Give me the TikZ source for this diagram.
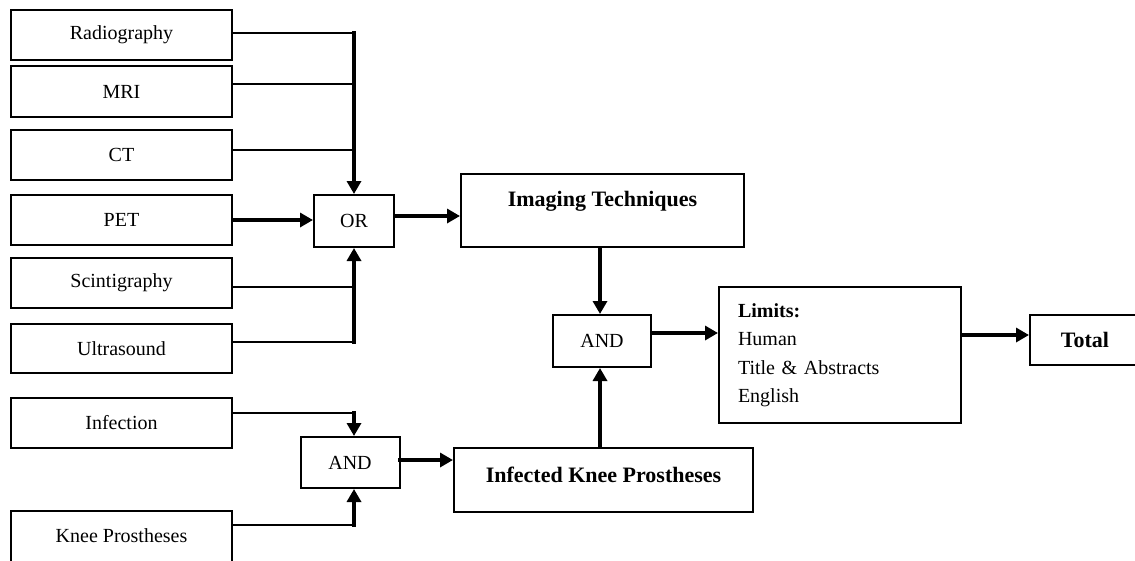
\documentclass[tikz,border=0pt]{standalone}
\usepackage{fontspec}
\setmainfont{Liberation Serif}
\usetikzlibrary{arrows.meta}
\begin{document}
\begin{tikzpicture}[x=1pt,y=-1pt,
  reg/.style={font=\fontsize{20}{24}\selectfont},
  bld/.style={font=\fontsize{22}{26}\selectfont\bfseries},
  box/.style={draw, line width=2pt, inner sep=0pt, reg},
  src/.style={box, minimum width=221pt, minimum height=50pt},
  thinln/.style={line width=2pt},
  arr/.style={line width=4.5pt, line cap=rect, -{Triangle[length=13pt,width=14pt]}},
]
\useasboundingbox (0,0) rectangle (1135,560);
\clip (0,0) rectangle (1135,560);

% source boxes
\node[src] (rad)  at (121.5,35)   {Radiography};
\node[src, minimum height=51pt] (mri)  at (121.5,91.5) {MRI};
\node[src] (ct)   at (121.5,155)  {CT};
\node[src] (pet)  at (121.5,220)  {PET};
\node[src] (sci)  at (121.5,283)  {Scintigraphy};
\node[src, minimum height=49pt] (ult)  at (121.5,348.5) {Ultrasound};
\node[src] (inf)  at (121.5,423)  {Infection};
\node[src, minimum height=60pt] (knee) at (121.5,541) {};
\node[reg] (kneelabel) at (121.5,536) {Knee Prostheses};

% gates
\node[box, minimum width=80pt, minimum height=52pt] (or)   at (354,221)   {OR};
\node[box, minimum width=99pt, minimum height=51pt] (and1) at (350,462.5) {AND};
\node[box, minimum width=98pt, minimum height=52pt] (and2) at (602,341)   {AND};

% result boxes
\node[box, minimum width=283pt, minimum height=73pt] (it)  at (602.5,210.5) {};
\node[bld] (itlabel) at (602.5,201) {Imaging Techniques};
\node[box, minimum width=299pt, minimum height=64pt] (ikp) at (603.5,480) {};
\node[bld] (ikplabel) at (603.5,475) {Infected Knee Prostheses};
\node[box, minimum width=242pt, minimum height=136pt, text width=204pt, inner xsep=19pt,
      align=left, font=\fontsize{20}{28.5}\selectfont] (lim) at (840,355)
      {\textbf{Limits:}\\Human\\Title \& Abstracts\\English};
\node[box, minimum width=130pt, minimum height=50pt] (total) at (1095,340) {};
\node[bld] (totallabel) at (1085,340) {Total};

% junction column
\coordinate (jx) at (354,0);
\coordinate (radE)  at ([yshift=2pt]rad.east);
\coordinate (mriE)  at ([yshift=7.5pt]mri.east);
\coordinate (ctE)   at ([yshift=5pt]ct.east);
\coordinate (sciE)  at ([yshift=-4pt]sci.east);
\coordinate (ultE)  at ([yshift=6.5pt]ult.east);
\coordinate (infE)  at ([yshift=10pt]inf.east);
\coordinate (kneeE) at (knee.east |- 0,525);

\draw[thinln] (radE) -- (radE -| jx);
\draw[thinln] (mriE) -- (mriE -| jx);
\draw[thinln] (ctE) -- (ctE -| jx);
\draw[arr] (radE -| jx) -- (or.north);
\draw[arr] (pet.east) -- (pet.east -| or.west);
\draw[thinln] (sciE) -- (sciE -| jx);
\draw[thinln] (ultE) -- (ultE -| jx);
\draw[arr] (ultE -| jx) -- (or.south);

\draw[thinln] (infE) -- (infE -| jx);
\draw[arr] (infE -| jx) -- (and1.north -| jx);
\draw[thinln] (kneeE) -- (kneeE -| jx);
\draw[arr] (kneeE -| jx) -- (and1.south -| jx);

% main flow
\coordinate (orE) at ([yshift=5pt]or.east);
\draw[arr] (orE) -- (orE -| it.west);
\draw[arr] (and1.east |- 0,460) -- (ikp.west |- 0,460);
\draw[arr] (it.south -| 600,0) -- (and2.north -| 600,0);
\draw[arr] (ikp.north -| 600,0) -- (and2.south -| 600,0);
\coordinate (a2E) at ([yshift=8pt]and2.east);
\draw[arr] (a2E) -- (a2E -| lim.west);
\coordinate (limE) at (lim.east |- 0,335);
\draw[arr] (limE) -- (limE -| total.west);
\end{tikzpicture}
\end{document}
